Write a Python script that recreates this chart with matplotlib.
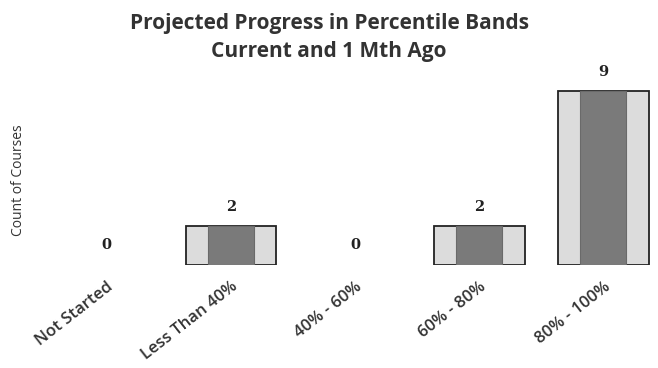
import matplotlib.pyplot as plt
import numpy as np

categories = ['Not Started', 'Less Than 40%', '40% - 60%', '60% - 80%', '80% - 100%']
ago_1mth = [0, 2, 0, 2, 9]
current = [0, 2, 0, 2, 9]

fig = plt.figure(figsize=(6.58, 3.68), dpi=100)
ax = fig.add_axes([0.068, 0.28, 0.932, 0.524])

x = np.arange(len(categories))
# no outline on empty bars
lw_ago = [1.3 if v > 0 else 0 for v in ago_1mth]
lw_cur = [0.8 if v > 0 else 0 for v in current]
ax.bar(x, ago_1mth, width=0.73, color='#dcdcdc', edgecolor='#222222', linewidth=lw_ago)
ax.bar(x, current, width=0.37, color='#7a7a7a', edgecolor='#6a6a6a', linewidth=lw_cur)

for xi, v in zip(x, current):
    ax.annotate(str(v), (xi, v), xytext=(0, 9), textcoords='offset points',
                ha='center', va='bottom', fontsize=10.5, fontweight='bold',
                family='DejaVu Serif', color='#222222')

ax.set_xlim(-0.5, 4.44)
ax.set_ylim(0, 10)
ax.set_yticks([])
ax.set_xticks(x)
ax.set_xticklabels(categories, rotation=38, ha='right', rotation_mode='anchor',
                   fontsize=12, fontweight='semibold', family='Open Sans', color='#333333')
ax.tick_params(axis='x', length=0, pad=10)
for s in ax.spines.values():
    s.set_visible(False)

ax.set_ylabel('Count of Courses', fontsize=10, family='Open Sans', color='#333333')
ax.yaxis.set_label_coords(-0.031, 0.44)

fig.text(0.5, 0.935, 'Projected Progress in Percentile Bands', ha='center', va='center',
         fontsize=15, fontweight='bold', family='Open Sans', color='#333333')
fig.text(0.5, 0.86, 'Current and 1 Mth Ago', ha='center', va='center',
         fontsize=15, fontweight='bold', family='Open Sans', color='#333333')

fig.savefig('out.png', dpi=100)
